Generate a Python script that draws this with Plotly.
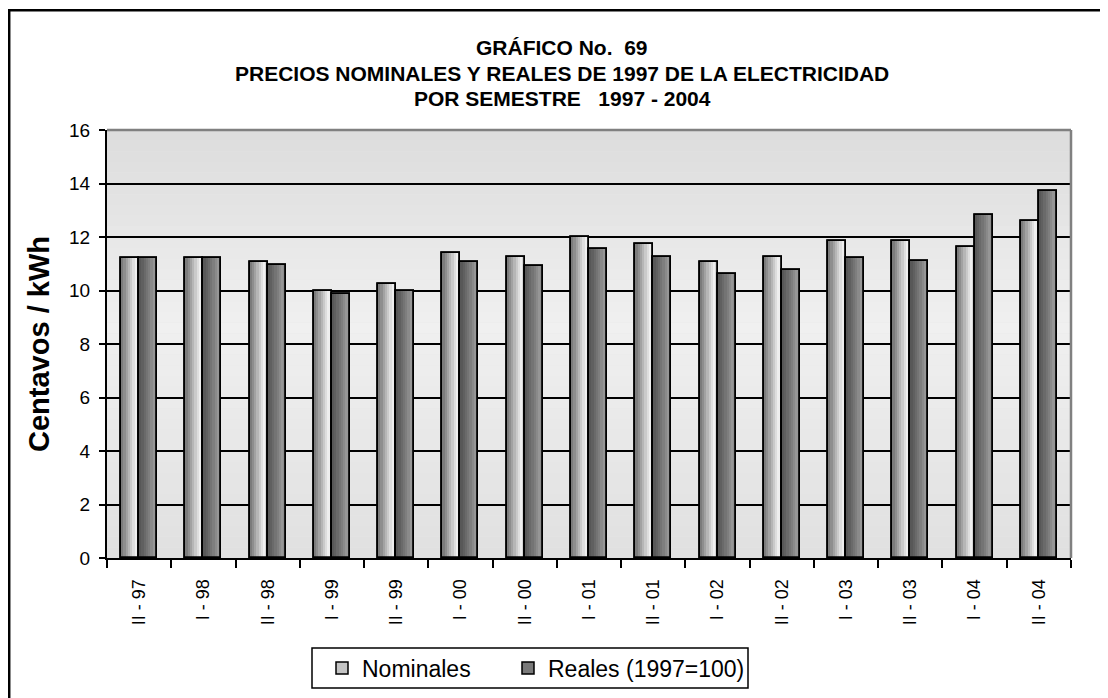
import plotly.graph_objects as go

categories = ["II - 97", "I - 98", "II - 98", "I - 99", "II - 99", "I - 00", "II - 00",
              "I - 01", "II - 01", "I - 02", "II - 02", "I - 03", "II - 03", "I - 04", "II - 04"]
nominales = [11.2, 11.2, 11.05, 9.98, 10.23, 11.42, 11.27, 12.0, 11.72, 11.05, 11.27, 11.86, 11.86, 11.64, 12.6]
reales = [11.2, 11.2, 10.97, 9.86, 9.98, 11.05, 10.9, 11.57, 11.27, 10.6, 10.75, 11.2, 11.12, 12.83, 13.72]
y_ticks = [0, 2, 4, 6, 8, 10, 12, 14, 16]
title_lines = ["GRÁFICO No.  69",
               "PRECIOS NOMINALES Y REALES DE 1997 DE LA ELECTRICIDAD",
               "POR SEMESTRE   1997 - 2004"]

FONT = "Liberation Sans, Arial, sans-serif"
BAR_W = 0.28

# figure-pixel geometry of the plot area (page is offset by the 8px body margin)
L, R, T, B = 99, 1063, 122, 550
PW, PH = R - L, B - T

def px(xf):
    return (xf - L) / PW

def py(yf):
    return (B - yf) / PH

nom_stripes = ["#7c7c7c", "#8e8e8e", "#a2a2a2", "#b6b6b6", "#cacaca", "#dedede", "#efefef", "#d4d4d4"]
real_stripes = ["#585858", "#606060", "#6a6a6a", "#747474", "#7e7e7e", "#8a8a8a", "#969696", "#8c8c8c"]

fig = go.Figure()

def add_series(name, values, offset, stripes, mid, legend):
    fig.add_trace(go.Bar(x=categories, y=values, name=name, offset=offset, width=BAR_W,
                         marker=dict(color=mid, line=dict(color="black", width=1.5)),
                         showlegend=True, legend=legend))
    n = len(stripes)
    for i, c in enumerate(stripes):
        fig.add_trace(go.Bar(x=categories, y=values, offset=offset + i * BAR_W / n,
                             width=BAR_W / n, marker=dict(color=c, line=dict(width=0)),
                             showlegend=False, hoverinfo="skip"))
    fig.add_trace(go.Bar(x=categories, y=values, offset=offset, width=BAR_W,
                         marker=dict(color="rgba(0,0,0,0)", line=dict(color="black", width=1.8)),
                         showlegend=False, hoverinfo="skip"))

add_series("Nominales", nominales, -BAR_W, nom_stripes, "#c4c4c4", "legend")
add_series("Reales (1997=100)", reales, 0, real_stripes, "#7a7a7a", "legend2")

shapes = []
nb = 40
for k in range(nb):
    t = (k + 0.5) / nb
    if t < 0.55:
        v = 224 + (240 - 224) * (t / 0.55)
    else:
        v = 240 - (240 - 220) * ((t - 0.55) / 0.45)
    v = int(round(v))
    shapes.append(dict(type="rect", xref="x domain", yref="y domain", x0=0, x1=1,
                       y0=k / nb, y1=(k + 1) / nb, fillcolor=f"rgb({v},{v},{v})",
                       line=dict(width=0), layer="below"))
shapes.append(dict(type="line", xref="x domain", yref="y domain", x0=0, x1=1, y0=1, y1=1,
                   line=dict(color="#808080", width=2.5), layer="above"))
shapes.append(dict(type="line", xref="x domain", yref="y domain", x0=1, x1=1, y0=0, y1=1,
                   line=dict(color="#808080", width=2.5), layer="above"))
# outer chart border
shapes.append(dict(type="rect", xref="paper", yref="paper", x0=px(1.2), x1=px(1250),
                   y0=py(800), y1=py(2.2), line=dict(color="black", width=2.5),
                   fillcolor="rgba(0,0,0,0)", layer="above"))
# legend box
shapes.append(dict(type="rect", xref="paper", yref="paper", x0=px(304), x1=px(740),
                   y0=py(680), y1=py(640), line=dict(color="black", width=1.5),
                   fillcolor="white", layer="above"))

annotations = []
for i, line in enumerate(title_lines):
    annotations.append(dict(text=f"<b>{line}</b>", xref="paper", yref="paper",
                            x=px(554), y=py(40 + 25 * i), xanchor="center", yanchor="middle",
                            showarrow=False, font=dict(family=FONT, size=21, color="black")))

leg_common = dict(orientation="h", yanchor="middle", y=py(660), xanchor="left",
                  bgcolor="rgba(0,0,0,0)", borderwidth=0,
                  font=dict(family=FONT, size=23, color="black"))

fig.update_layout(
    width=1108, height=698,
    margin=dict(l=L, r=1108 - R, t=T, b=698 - B),
    paper_bgcolor="white", plot_bgcolor="#e6e6e6",
    barmode="overlay", bargap=0,
    font=dict(family=FONT, color="black"),
    annotations=annotations,
    xaxis=dict(type="category", showline=True, linecolor="black", linewidth=2,
               ticks="outside", tickson="boundaries", ticklen=8, tickcolor="black", tickwidth=2,
               tickangle=-90, tickfont=dict(family=FONT, size=18, color="black"),
               ticklabelstandoff=12,
               showgrid=False, range=[-0.5, 14.5]),
    yaxis=dict(range=[0, 16], tickvals=y_ticks, showline=True, linecolor="black", linewidth=2,
               ticks="outside", ticklen=6, tickcolor="black", tickwidth=2,
               showgrid=True, gridcolor="black", gridwidth=1.5, zeroline=False,
               tickfont=dict(family=FONT, size=19, color="black"),
               ticklabelstandoff=5,
               title=dict(text="<b>Centavos / kWh</b>", font=dict(family=FONT, size=29, color="black"),
                          standoff=11)),
    legend=dict(x=px(314), **leg_common),
    legend2=dict(x=px(500), **leg_common),
    shapes=shapes,
)

fig.write_html("out.html")
